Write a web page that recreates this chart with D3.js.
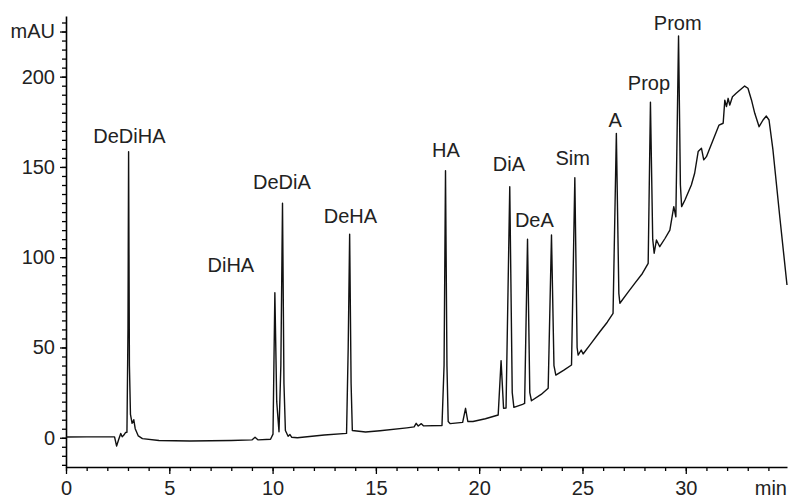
<!DOCTYPE html>
<html>
<head>
<meta charset="utf-8">
<script src="https://cdn.jsdelivr.net/npm/d3@7"></script>
<style>
  body { margin: 0; background: #fff; }
  text { font-family: "Liberation Sans", Arial, sans-serif; }
</style>
</head>
<body>
<div id="chart"></div>
<script>
// chromatogram trace: [time (min), absorbance (mAU)]
var trace = [
  [0, 0.4], [1.0, 0.5], [2.35, 0.5], [2.45, -4.6], [2.55, -1], [2.65, 2.4], [2.72, 0.5],
  [2.8, 1.5], [2.88, 2.9], [2.95, 3], [3.0, 60], [3.03, 158.4], [3.07, 40], [3.12, 13],
  [3.2, 8], [3.28, 10], [3.35, 5], [3.5, 1], [3.7, -0.5], [4.5, -1.5], [6, -1.8], [8, -1.5],
  [9.0, -1.2], [9.15, 0.3], [9.3, -1.2], [9.9, -0.8], [10.02, 2], [10.11, 80.3], [10.2, 20],
  [10.31, 3.3], [10.4, 40], [10.48, 129.9], [10.55, 30], [10.62, 4], [10.75, 0.8], [10.84, 1.8],
  [10.92, 0.3], [11.2, 0], [12.5, 1.5], [13.58, 2.4], [13.66, 50], [13.73, 112.7], [13.8, 30],
  [13.86, 4], [14.5, 3.2], [15.2, 3.9], [16.5, 5.5], [16.85, 6], [16.95, 8], [17.05, 6.5],
  [17.2, 7.8], [17.3, 6.6], [18.2, 6.8], [18.3, 40], [18.37, 147.9], [18.44, 40], [18.5, 9],
  [18.6, 7.8], [19.2, 8.5], [19.34, 16.3], [19.45, 9], [19.7, 9], [20.3, 10.5], [20.92, 12.6],
  [21.06, 42.7], [21.18, 16.3], [21.3, 16.5], [21.48, 139], [21.6, 25], [21.68, 16.8],
  [22.1, 18.5], [22.2, 19], [22.34, 110], [22.45, 25], [22.53, 20.5], [23.0, 24], [23.34, 27.4],
  [23.5, 112.3], [23.62, 40], [23.71, 34.7], [24.1, 37.5], [24.47, 40.3], [24.63, 144],
  [24.74, 50], [24.79, 45.8], [24.94, 48.6], [25.03, 46.4], [25.4, 52], [25.84, 58.7],
  [26.2, 64], [26.48, 68.9], [26.64, 168.6], [26.76, 80], [26.81, 74.5], [27.2, 80.5],
  [27.53, 85.5], [27.9, 91], [28.18, 96.6], [28.29, 185.8], [28.4, 110], [28.47, 102.2],
  [28.58, 109.5], [28.74, 105.8], [29.0, 110.5], [29.23, 115], [29.42, 128], [29.52, 122.4],
  [29.65, 222.5], [29.74, 140], [29.8, 128], [29.96, 131.7], [30.27, 140], [30.43, 146.5],
  [30.6, 158.5], [30.76, 160.3], [30.87, 153.9], [31.0, 155.7], [31.48, 169.5], [31.61, 173.2],
  [31.81, 174.2], [31.89, 187], [31.97, 183.4], [32.05, 188], [32.13, 184.3], [32.26, 188.9],
  [32.44, 190.8], [32.85, 194.8], [33.01, 193.6], [33.18, 187.1], [33.34, 179.7], [33.55, 172.3],
  [33.74, 176], [33.9, 178.2], [34.03, 176], [34.22, 159.4], [34.55, 122.4], [34.9, 84.6]
];

// peak names with the point where each name sits (time, mAU)
var peakNames = ["DeDiHA", "DiHA", "DeDiA", "DeHA", "HA", "DiA", "DeA", "Sim", "A", "Prop", "Prom"];
var peakLabelTime = [3.07, 7.98, 10.45, 13.77, 18.39, 21.44, 22.67, 24.53, 26.58, 28.22, 29.61];
var peakLabelValue = [163.3, 91.6, 137.8, 118.8, 155.7, 147.9, 116.6, 151.1, 172.3, 192.6, 225.9];

var xMajorTicks = [0, 5, 10, 15, 20, 25, 30];
var yMajorTicks = [0, 50, 100, 150, 200];
var xUnit = "min", yUnit = "mAU";

var width = 792, height = 499;

var svg = d3.select("#chart")
  .append("svg")
  .attr("width", width)
  .attr("height", height);

var x = d3.scaleLinear().domain([0, 34.9]).range([66, 787]);
var y = d3.scaleLinear().domain([-16.2, 233.6]).range([467, 16]);

// minor ticks
svg.append("g")
  .attr("transform", "translate(0," + y.range()[0] + ")")
  .call(d3.axisBottom(x).tickValues(d3.range(0, 35, 1)).tickSize(4).tickFormat(""))
  .call(function(g) { g.select(".domain").remove(); });
svg.append("g")
  .attr("transform", "translate(" + x.range()[0] + ",0)")
  .call(d3.axisLeft(y).tickValues(d3.range(-15, 231, 5)).tickSize(4).tickFormat(""))
  .call(function(g) { g.select(".domain").remove(); });

// major ticks + labels
var xAxis = svg.append("g")
  .attr("transform", "translate(0," + y.range()[0] + ")")
  .call(d3.axisBottom(x).tickValues(xMajorTicks).tickSize(7).tickPadding(7).tickSizeOuter(0));
var yAxis = svg.append("g")
  .attr("transform", "translate(" + x.range()[0] + ",0)")
  .call(d3.axisLeft(y).tickValues(yMajorTicks.concat([225])).tickSize(6).tickPadding(5).tickSizeOuter(0)
    .tickFormat(function(d) { return d == 225 ? yUnit : d; }));

svg.selectAll(".domain").attr("stroke", "#000").attr("stroke-width", 1.6);
svg.selectAll(".tick line").attr("stroke", "#000").attr("stroke-width", 1.3);
svg.selectAll(".tick text")
  .style("font-size", "20px")
  .style("font-family", "'Liberation Sans', Arial, sans-serif")
  .attr("fill", "#222");

svg.append("text")
  .attr("x", x.range()[1])
  .attr("y", 495)
  .attr("text-anchor", "end")
  .style("font-size", "20px")
  .attr("fill", "#222")
  .text(xUnit);

// trace
var line = d3.line()
  .x(function(d) { return x(d[0]); })
  .y(function(d) { return y(d[1]); });

svg.append("path")
  .datum(trace)
  .attr("d", line)
  .attr("fill", "none")
  .attr("stroke", "#111")
  .attr("stroke-width", 1.4)
  .attr("stroke-linejoin", "round");

// peak labels
svg.selectAll(".peak-label")
  .data(peakNames)
  .enter()
  .append("text")
  .attr("class", "peak-label")
  .attr("x", function(d, i) { return x(peakLabelTime[i]); })
  .attr("y", function(d, i) { return y(peakLabelValue[i]); })
  .attr("text-anchor", "middle")
  .style("font-size", "20px")
  .attr("fill", "#222")
  .text(function(d) { return d; });
</script>
</body>
</html>
